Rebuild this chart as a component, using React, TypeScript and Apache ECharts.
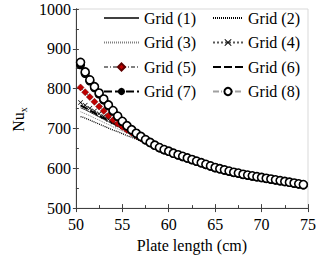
import React, { useEffect, useRef } from "react";
import * as echarts from "echarts";

const plateLength = [
  50.5, 51, 51.5, 52, 52.5, 53, 53.5, 54, 54.5, 55, 55.5, 56, 56.5, 57, 57.5, 58, 58.5, 59, 59.5, 60,
  60.5, 61, 61.5, 62, 62.5, 63, 63.5, 64, 64.5, 65, 65.5, 66, 66.5, 67, 67.5, 68, 68.5, 69, 69.5, 70,
  70.5, 71, 71.5, 72, 72.5, 73, 73.5, 74, 74.5,
];

const grid1 = [
  752, 747, 741, 735, 729, 723, 717, 711, 705, 699, 693, 687, 681, 676, 670, 664, 658, 652, 646, 642,
  637, 633, 629, 625, 621, 617, 613, 609, 605, 601, 598, 595, 592, 589, 587, 584, 582, 580, 578, 576,
  574, 572, 570, 568, 566, 564, 562, 560, 558,
];
const grid2 = [
  730, 726, 721, 716, 711, 706, 701, 696, 692, 687, 682, 678, 673, 669, 664, 660, 655, 651, 647, 642,
  637, 633, 629, 625, 621, 617, 613, 609, 605, 601, 598, 595, 592, 589, 587, 584, 582, 580, 578, 576,
  574, 572, 570, 568, 566, 564, 562, 560, 558,
];
const grid3 = [
  742, 737, 732, 726, 721, 715, 710, 704, 699, 694, 689, 684, 679, 674, 669, 664, 659, 654, 649, 644,
  639, 634, 630, 626, 622, 618, 614, 610, 606, 602, 599, 596, 593, 590, 588, 585, 583, 581, 579, 577,
  575, 573, 571, 569, 567, 565, 563, 561, 559,
];
const grid4 = [
  765, 758, 751, 744, 737, 730, 723, 716, 710, 704, 698, 692, 686, 680, 674, 668, 662, 656, 650, 645,
  639, 634, 630, 626, 622, 618, 614, 610, 606, 602, 599, 596, 593, 590, 588, 585, 583, 581, 579, 577,
  575, 573, 571, 569, 567, 565, 563, 561, 559,
];
const grid5 = [
  803, 791, 779, 767, 755, 744, 732, 721, 712, 704, 696, 689, 682, 675, 669, 663, 657, 651, 646, 642,
  638, 634, 630, 626, 622, 618, 614, 610, 607, 603, 600, 597, 594, 591, 589, 586, 584, 582, 580, 578,
  576, 574, 572, 570, 568, 566, 564, 562, 560,
];
const grid6 = [
  758, 752, 745, 739, 732, 726, 720, 714, 708, 702, 696, 690, 684, 679, 673, 667, 661, 655, 649, 644,
  639, 634, 630, 626, 622, 618, 614, 610, 606, 602, 599, 596, 593, 590, 588, 585, 583, 581, 579, 577,
  575, 573, 571, 569, 567, 565, 563, 561, 559,
];
const grid7 = [
  860, 838, 819, 802, 786, 771, 757, 743, 730, 717, 706, 696, 687, 679, 671, 664, 657, 651, 646, 642,
  637, 633, 629, 625, 621, 617, 613, 609, 605, 601, 598, 595, 592, 589, 587, 584, 582, 580, 578, 576,
  574, 572, 570, 568, 566, 564, 562, 560, 558,
];
const grid8 = [
  866, 842, 822, 805, 789, 774, 759, 745, 731, 718, 707, 697, 688, 680, 672, 665, 658, 652, 647, 643,
  638, 634, 630, 626, 622, 618, 614, 610, 606, 602, 599, 596, 593, 590, 588, 585, 583, 581, 579, 577,
  575, 573, 571, 569, 567, 565, 563, 561, 559,
];

const seriesNames = ["Grid (1)", "Grid (2)", "Grid (3)", "Grid (4)", "Grid (5)", "Grid (6)", "Grid (7)", "Grid (8)"];
const xTicks = { min: 50, max: 75, interval: 5 };
const yTicks = { min: 500, max: 1000, interval: 100 };

const FONT = "Liberation Serif";
const FS = 16;

const pair = (ys: number[]) => plateLength.map((x, i) => [x, ys[i]]);

const crossPath = "path://M1,0L5,4L9,0L10,1L6,5L10,9L9,10L5,6L1,10L0,9L4,5L0,1Z";

export default function App() {
  const ref = useRef<HTMLDivElement>(null);
  useEffect(() => {
    if (!ref.current) return;
    const chart = echarts.init(ref.current, undefined, { renderer: "svg" });
    const gridPos = { left: 54, top: 9, width: 255, height: 208 };

    const baseLine = (name: string, ys: number[], lineStyle: any, extra: any = {}) => ({
      type: "line",
      name,
      data: pair(ys),
      xAxisIndex: 0,
      yAxisIndex: 0,
      symbol: "circle",
      showSymbol: false,
      symbolSize: 1,
      lineStyle,
      itemStyle: { color: lineStyle.color },
      ...extra,
    });

    const series = [
      baseLine(seriesNames[0], grid1, { color: "#404040", width: 1, type: "solid" }),
      baseLine(seriesNames[1], grid2, { color: "#000000", width: 1.3, type: [1, 1] }),
      baseLine(seriesNames[2], grid3, { color: "#808080", width: 1, type: [1, 1] }),
      baseLine(seriesNames[3], grid4, { color: "#595959", width: 1, type: [2, 2] }, {
        symbol: crossPath,
        showSymbol: true,
        symbolSize: 5,
        itemStyle: { color: "#000000" },
      }),
      baseLine(seriesNames[4], grid5, { color: "#808080", width: 1, type: [4, 2, 1, 2] }, {
        symbol: "diamond",
        showSymbol: true,
        symbolSize: 7,
        itemStyle: { color: "#c00000", borderColor: "#600000", borderWidth: 0.5 },
      }),
      baseLine(seriesNames[5], grid6, { color: "#000000", width: 2, type: [8, 3] }),
      baseLine(seriesNames[6], grid7, { color: "#000000", width: 2, type: [8, 3] }, {
        symbol: "circle",
        showSymbol: true,
        symbolSize: 9,
        itemStyle: { color: "#000000" },
      }),
      baseLine(seriesNames[7], grid8, { color: "#a0a0a0", width: 1, type: [6, 2, 1, 2] }, {
        symbol: "circle",
        showSymbol: true,
        symbolSize: 8,
        itemStyle: { color: "#ffffff", borderColor: "#000000", borderWidth: 1.6 },
      }),
    ];

    const noMarker = [true, true, true, false, false, true, false, false];
    const rowTops = [10, 34.5, 59, 83.5];
    const legends = seriesNames.map((n, i) => {
      const col = i % 2;
      const row = Math.floor(i / 2);
      return {
        data: [noMarker[i] ? { name: n, itemStyle: { opacity: 0 } } : { name: n }],
        left: col === 0 ? 103 : 212,
        top: rowTops[row],
        padding: 0,
        itemWidth: col === 0 ? 35 : 30,
        itemHeight: 9,
        itemGap: 0,
        selectedMode: false,
        textStyle: { fontFamily: FONT, fontSize: FS, color: "#000" },
      };
    });

    const axisCommon = {
      type: "value",
      axisLine: { show: true, lineStyle: { color: "#404040", width: 1 } },
      splitLine: { show: false },
    };

    chart.setOption({
      animation: false,
      backgroundColor: "#ffffff",
      textStyle: { fontFamily: FONT },
      grid: { ...gridPos, show: true, borderColor: "#d9d9d9", borderWidth: 1, containLabel: false },
      legend: legends,
      xAxis: [
        {
          ...axisCommon,
          ...xTicks,
          name: "Plate length (cm)",
          nameLocation: "middle",
          nameGap: 23,
          nameTextStyle: { fontFamily: FONT, fontSize: FS, color: "#000" },
          axisTick: { show: true, inside: true, length: 4, lineStyle: { color: "#404040" } },
          minorTick: { show: true, splitNumber: 2, length: 3, lineStyle: { color: "#404040" } },
          axisLabel: { fontFamily: FONT, fontSize: FS, color: "#000", margin: 8 },
        },
        {
          ...axisCommon,
          ...xTicks,
          axisTick: { show: true, inside: false, length: 4, lineStyle: { color: "#404040" } },
          axisLabel: { show: false },
          position: "bottom",
        },
      ],
      yAxis: [
        {
          ...axisCommon,
          ...yTicks,
          name: "{a|Nu}{b|x}",
          nameLocation: "middle",
          nameGap: 43,
          nameRotate: 90,
          nameTextStyle: {
            fontFamily: FONT,
            color: "#000",
            padding: [0, 22, 0, 0],
            rich: {
              a: { fontFamily: FONT, fontSize: FS, lineHeight: 20, color: "#000" },
              b: { fontFamily: FONT, fontSize: 10, lineHeight: 10, padding: [10, 0, 0, 0], color: "#000" },
            },
          },
          axisTick: { show: true, inside: true, length: 3, lineStyle: { color: "#404040" } },
          minorTick: { show: true, splitNumber: 2, length: 3, lineStyle: { color: "#404040" } },
          axisLabel: {
            fontFamily: FONT,
            fontSize: FS,
            color: "#000",
            margin: 5,
            formatter: (v: number) => String(v),
          },
        },
        {
          ...axisCommon,
          ...yTicks,
          axisTick: { show: true, inside: false, length: 3, lineStyle: { color: "#404040" } },
          axisLabel: { show: false },
          position: "left",
        },
      ],
      series,
    });
    return () => chart.dispose();
  }, []);
  return (
    <div
      ref={ref}
      style={{ position: "fixed", left: 0, top: 0, width: 319, height: 258, background: "#fff" }}
    />
  );
}
